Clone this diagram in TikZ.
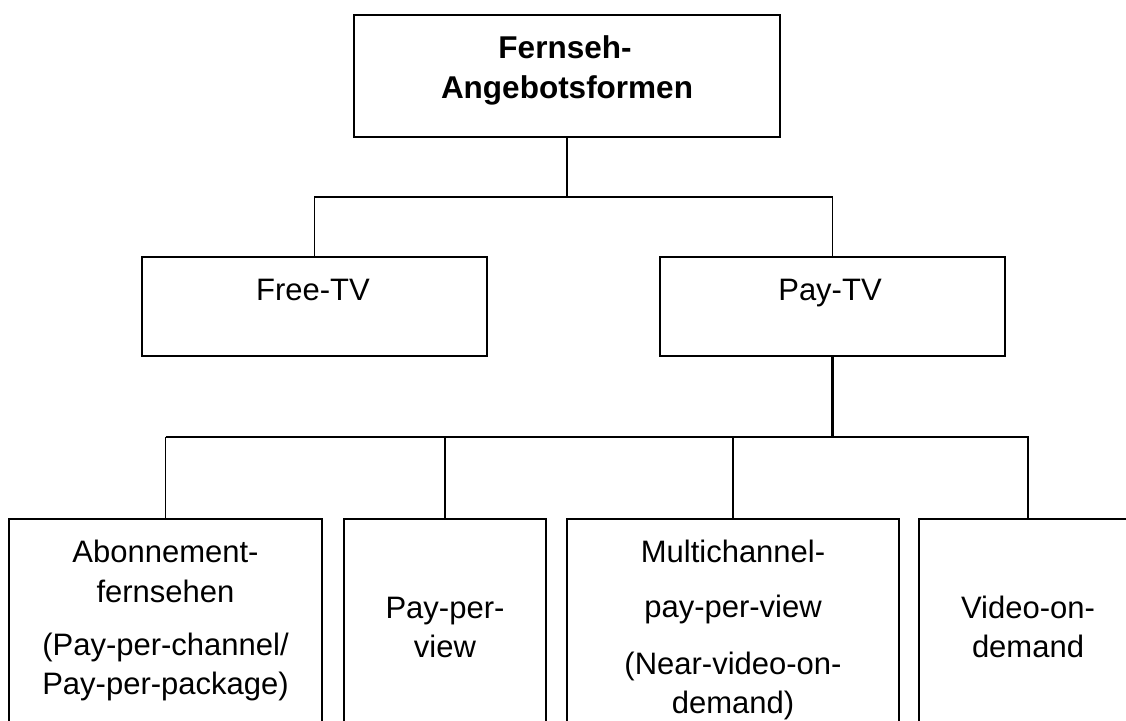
\documentclass[tikz,border=0pt]{standalone}
\usepackage{fontspec}
\setmainfont{Liberation Sans}
\begin{document}
\begin{tikzpicture}[x=1pt,y=-1pt,
  box/.style={draw, rectangle, line width=1.8pt, inner sep=0pt},
  link/.style={line width=1.8pt},
  heavylink/.style={line width=2.4pt},
  stem/.style={line width=3pt},
  txt/.style={anchor=base, inner sep=0pt, font=\fontsize{31}{37}\selectfont},
  headtxt/.style={anchor=base, inner sep=0pt, font=\bfseries\fontsize{31.5}{38}\selectfont}]
\useasboundingbox (0,0) rectangle (1126,720);
\clip (0,0) rectangle (1126,720);

% boxes
\node[box, minimum width=426pt, minimum height=122pt] (top)  at (567,76) {};
\node[box, minimum width=345pt, minimum height=99pt]  (free) at (314.5,306.5) {};
\node[box, minimum width=345pt, minimum height=99pt]  (pay)  at (832.5,306.5) {};
\node[box, minimum width=313pt, minimum height=261pt] (abo)  at (165.5,649.5) {};
\node[box, minimum width=202pt, minimum height=261pt] (ppv)  at (445,649.5) {};
\node[box, minimum width=332pt, minimum height=261pt] (mc)   at (733,649.5) {};
\node[box, minimum width=218pt, minimum height=261pt] (vod)  at (1028,649.5) {};

% labels
\node[headtxt] (h1) at (565,58) {Fernseh-};
\node[headtxt] (h2) at (567,98) {Angebotsformen};
\node[txt] (lfree) at (313,300) {Free-TV};
\node[txt] (lpay)  at (830,300) {Pay-TV};
\node[txt] (a1) at (165.5,562) {Abonnement-};
\node[txt] (a2) at (165.5,602) {fernsehen};
\node[txt] (a3) at (165.5,655) {(Pay-per-channel/};
\node[txt] (a4) at (165.5,694) {Pay-per-package)};
\node[txt] (p1) at (445,618) {Pay-per-};
\node[txt] (p2) at (445,657) {view};
\node[txt] (m1) at (733,562) {Multichannel-};
\node[txt] (m2) at (733,617) {pay-per-view};
\node[txt] (m3) at (733,674) {(Near-video-on-};
\node[txt] (m4) at (733,713) {demand)};
\node[txt] (v1) at (1028,618) {Video-on-};
\node[txt] (v2) at (1028,657) {demand};

% connectors
\coordinate (j1) at (567,197);
\coordinate (j2) at (832.5,437);
\coordinate (jl) at (abo.north |- j2);
\draw[link] (top.south) -- (j1);
\draw[link] (free.north) |- (j1) -| (pay.north);
\draw[stem] (pay.south) -- (j2);
\draw[heavylink] (jl) -- (j2);
\draw[link] (abo.north) -- (jl);
\draw[link] (j2) -| (vod.north);
\draw[link] (ppv.north) -- (ppv.north |- j2);
\draw[link] (mc.north) -- (mc.north |- j2);
\end{tikzpicture}
\end{document}
